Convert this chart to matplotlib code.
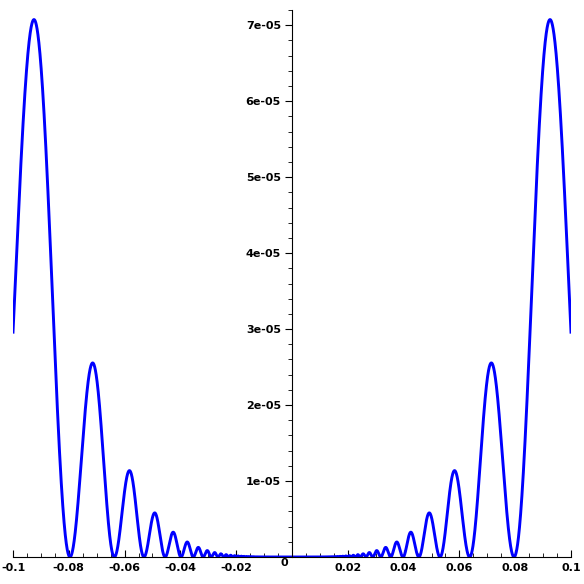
import numpy as np
from matplotlib import pyplot as plt
from matplotlib.ticker import MultipleLocator, FixedLocator

# plotted curve: y = x^4 * sin(1/x)^2 on [-0.1, 0.1]
x_range = [-0.1, 0.1]
power = 4
n_samples = 20001
x_ticks = [-0.1, -0.08, -0.06, -0.04, -0.02, 0.02, 0.04, 0.06, 0.08, 0.1]
x_tick_labels = ['-0.1', '-0.08', '-0.06', '-0.04', '-0.02', '0.02', '0.04', '0.06', '0.08', '0.1']
y_ticks = [1e-5, 2e-5, 3e-5, 4e-5, 5e-5, 6e-5, 7e-5]
y_tick_labels = ['1e-05', '2e-05', '3e-05', '4e-05', '5e-05', '6e-05', '7e-05']

x = np.linspace(x_range[0], x_range[1], n_samples)
x = x[x != 0]
y = x**power * np.sin(1 / x)**2

fig = plt.figure(figsize=(5.84, 5.84), dpi=100)
ax = fig.add_axes([13/584, 27/584, 558/584, 547/584])
ax.plot(x, y, color='#0000ff', linewidth=2.1)

ax.set_xlim(x_range)
ax.set_ylim(0, 7.2e-5)

ax.spines['left'].set_position(('data', 0))
ax.spines['top'].set_visible(False)
ax.spines['right'].set_visible(False)

ax.xaxis.set_major_locator(FixedLocator(x_ticks))
ax.set_xticklabels(x_tick_labels, fontsize=8, fontweight='bold')
ax.xaxis.set_minor_locator(MultipleLocator(0.005))
ax.tick_params(axis='x', which='major', direction='in', length=5, pad=4)
ax.tick_params(axis='x', which='minor', direction='in', length=3)

ax.yaxis.set_major_locator(FixedLocator(y_ticks))
ax.set_yticklabels(y_tick_labels, fontsize=8, fontweight='bold')
ax.yaxis.set_minor_locator(MultipleLocator(2e-6))
ax.tick_params(axis='y', which='major', direction='out', length=5, pad=3)
ax.tick_params(axis='y', which='minor', direction='out', length=3)

ax.text(-0.0028, -0.8e-6, '0', fontsize=8, fontweight='bold', ha='center', va='center')

fig.savefig('out.png', dpi=100)
